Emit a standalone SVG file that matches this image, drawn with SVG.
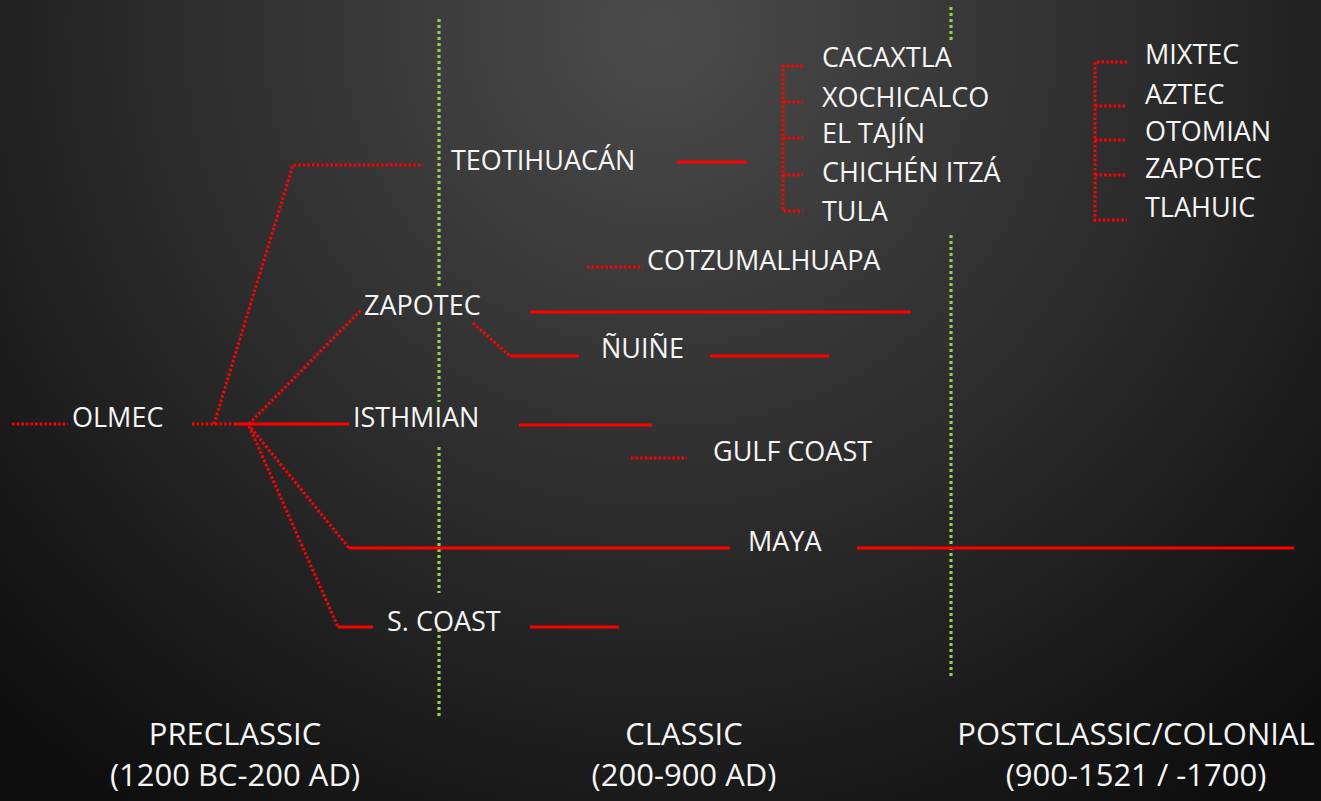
<svg xmlns="http://www.w3.org/2000/svg" width="1321" height="801" viewBox="0 0 1321 801">
<defs>
<radialGradient id="bg" gradientUnits="userSpaceOnUse" cx="660" cy="30" r="950">
<stop offset="0" stop-color="#4b4b4b"/>
<stop offset="0.55" stop-color="#2a2a2a"/>
<stop offset="1" stop-color="#0e0e0e"/>
</radialGradient>
<style>
text{font-family:"Open Sans","Liberation Sans",sans-serif;fill:#f6f6f6;font-size:27px}
.era{font-size:31px;text-anchor:middle}
.solid{stroke:#ff0000;stroke-width:3;fill:none}
.dot{stroke:#ff0000;stroke-width:3;fill:none;stroke-dasharray:2.6 2}
.grid{stroke:#92d050;stroke-width:3.2;fill:none;stroke-dasharray:3 3}
</style>
</defs>
<rect width="1321" height="801" fill="url(#bg)"/>
<g id="era-lines">
<path class="grid" d="M439 19V286M439 322V402M439 447V593M439 629V717"/>
<path class="grid" d="M951 7V40M951 235V676"/>
</g>
<g id="connectors">
<path class="dot" d="M12 424H68"/>
<path class="dot" d="M192 424H234"/>
<path class="solid" d="M234 424H349"/>
<path class="dot" d="M214 424L293 165H423"/>
<path class="dot" d="M249 424L362 309"/>
<path class="dot" d="M251 428L349 548"/>
<path class="solid" d="M349 548H730"/>
<path class="dot" d="M249 426L338 627"/>
<path class="solid" d="M338 627H373"/>
<path class="solid" d="M677 162H747"/>
<path class="dot" d="M803 66H783V211H803M783 102H803M783 138H803M783 175H803"/>
<path class="dot" d="M1127 62H1095V220H1127M1095 106H1127M1095 140H1127M1095 175H1127"/>
<path class="dot" d="M587 267H643"/>
<path class="solid" d="M530 312H911"/>
<path class="dot" d="M473 323L510 356"/>
<path class="solid" d="M510 356H579"/>
<path class="solid" d="M710 356H829"/>
<path class="solid" d="M519 425H652"/>
<path class="dot" d="M631 458H687"/>
<path class="solid" d="M857 548H1294"/>
<path class="solid" d="M530 627H619"/>
</g>
<g id="olmec"><text x="72" y="427">OLMEC</text></g>
<g id="teotihuacan"><text x="451" y="170">TEOTIHUACÁN</text></g>
<g id="zapotec"><text x="364" y="315">ZAPOTEC</text></g>
<g id="isthmian"><text x="353" y="427">ISTHMIAN</text></g>
<g id="maya"><text x="748" y="551">MAYA</text></g>
<g id="s-coast"><text x="387" y="631">S. COAST</text></g>
<g id="cotzumalhuapa"><text x="647" y="270">COTZUMALHUAPA</text></g>
<g id="nuine"><text x="601" y="358">ÑUIÑE</text></g>
<g id="gulf-coast"><text x="713" y="461">GULF COAST</text></g>
<g id="classic-group">
<text x="822" y="67">CACAXTLA</text>
<text x="822" y="107">XOCHICALCO</text>
<text x="822" y="143">EL TAJÍN</text>
<text x="822" y="182">CHICHÉN ITZÁ</text>
<text x="822" y="221">TULA</text>
</g>
<g id="postclassic-group">
<text x="1145" y="64">MIXTEC</text>
<text x="1145" y="104">AZTEC</text>
<text x="1145" y="141">OTOMIAN</text>
<text x="1145" y="178">ZAPOTEC</text>
<text x="1145" y="217">TLAHUIC</text>
</g>
<g id="era-preclassic">
<text class="era" x="235" y="745">PRECLASSIC</text>
<text class="era" x="235" y="786">(1200 BC-200 AD)</text>
</g>
<g id="era-classic">
<text class="era" x="684" y="745">CLASSIC</text>
<text class="era" x="684" y="786">(200-900 AD)</text>
</g>
<g id="era-postclassic">
<text class="era" x="1136" y="745">POSTCLASSIC/COLONIAL</text>
<text class="era" x="1136" y="786">(900-1521 / -1700)</text>
</g>
</svg>
